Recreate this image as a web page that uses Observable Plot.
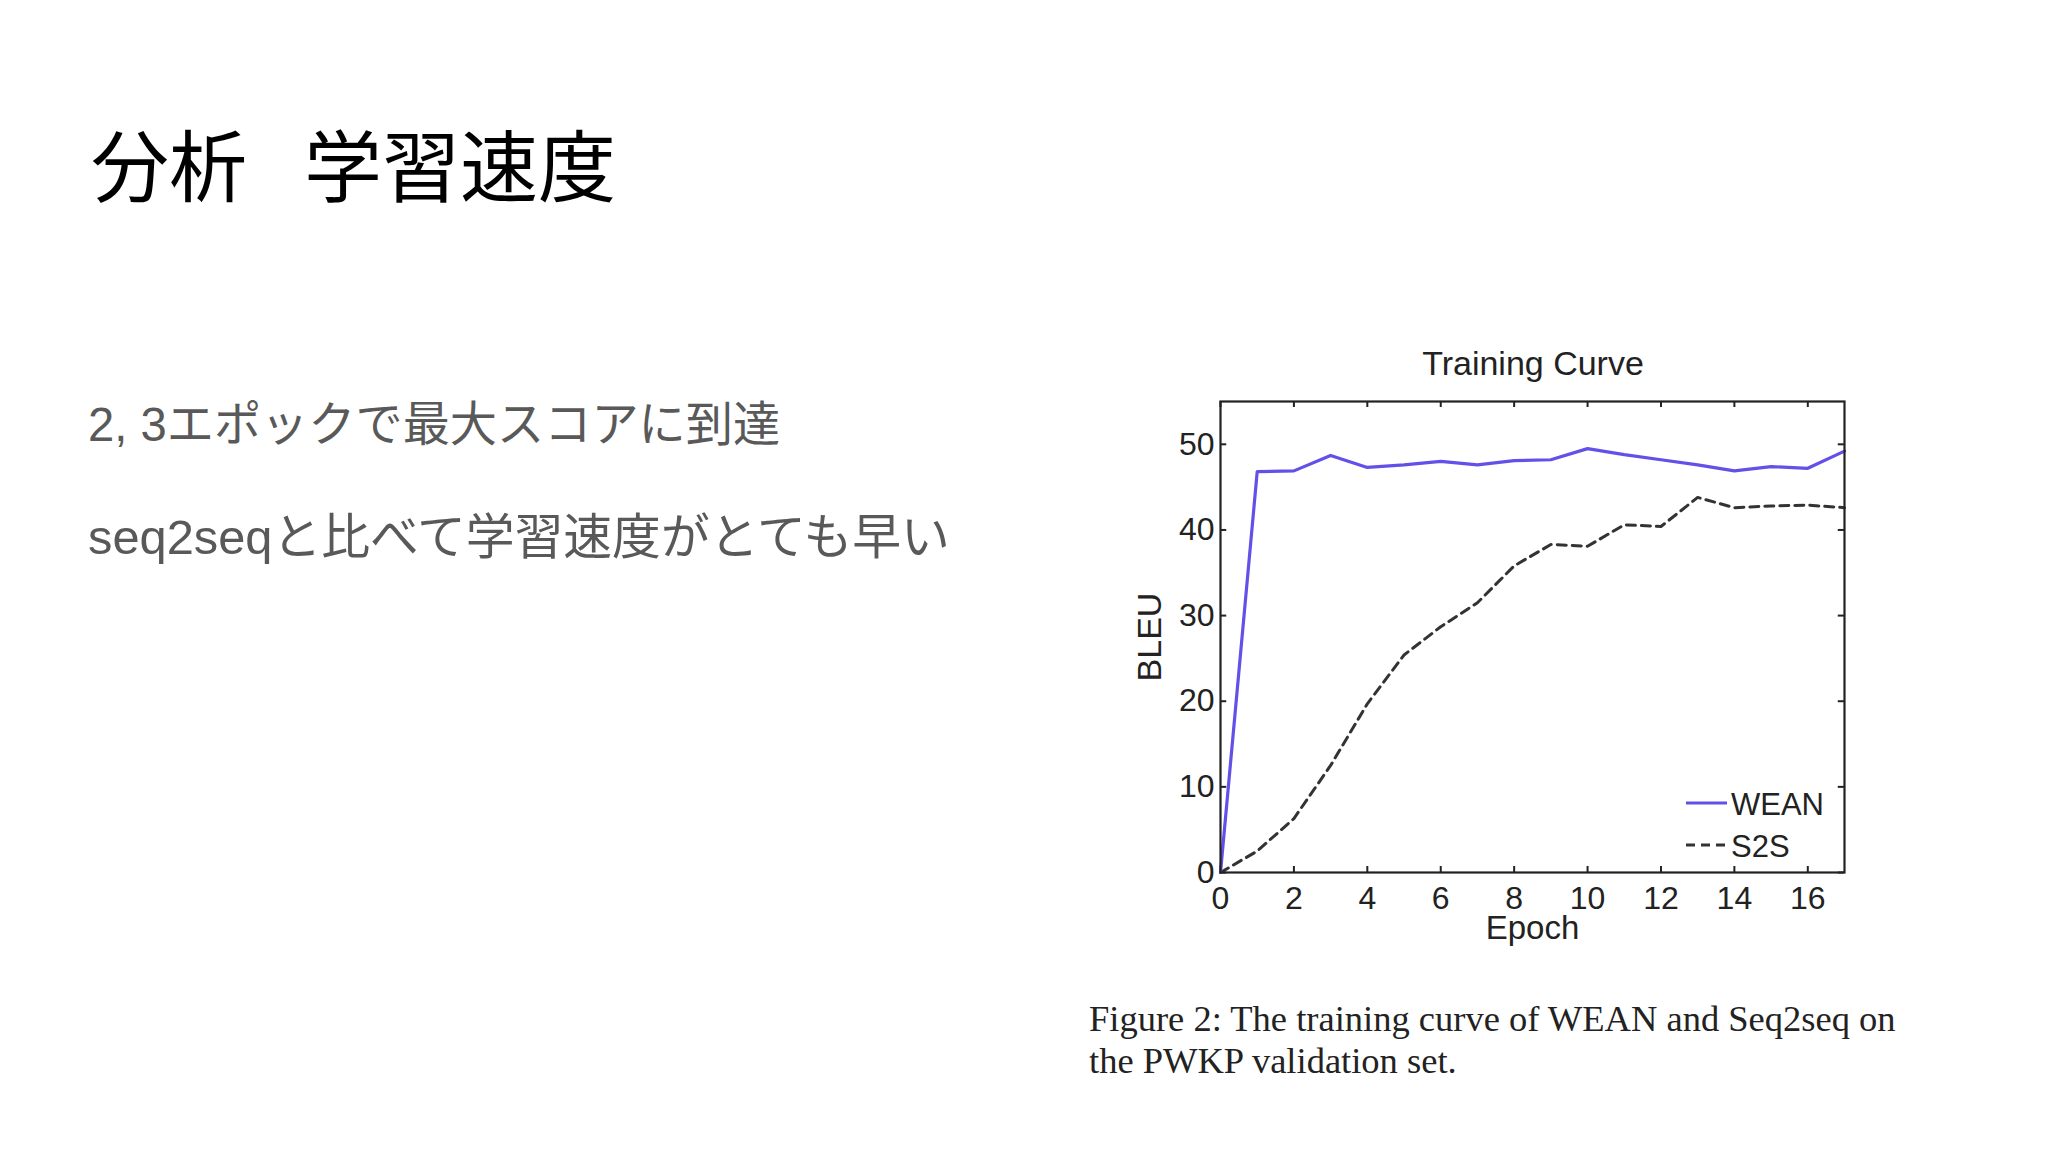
<!DOCTYPE html>
<html>
<head>
<meta charset="utf-8">
<script src="https://cdn.jsdelivr.net/npm/d3@7"></script>
<script src="https://cdn.jsdelivr.net/npm/@observablehq/plot@0.6"></script>
<style>
  html, body { margin: 0; padding: 0; background: #fff; }
  #page { position: relative; width: 2048px; height: 1152px; overflow: hidden; background: #fff; }
  #overlay { position: absolute; left: 0; top: 0; }
  #chart { position: absolute; left: 1100px; top: 320px; }
</style>
</head>
<body>
<div id="page">
  <svg id="overlay" width="2048" height="1152" xmlns="http://www.w3.org/2000/svg">
    <g font-family="'Noto Sans CJK JP', 'Liberation Sans', sans-serif" fill="#000">
      <text x="91" y="196" font-size="78">分析</text>
      <text x="304" y="196" font-size="78">学習速度</text>
    </g>
    <g font-family="'Liberation Sans', 'Noto Sans CJK JP', sans-serif" fill="#595959">
      <text x="88" y="441" font-size="47.2">2, 3エポックで最大スコアに到達</text>
      <text x="88" y="554" font-size="48.8">seq2seqと比べて学習速度がとても早い</text>
    </g>
    <text x="1533" y="375" text-anchor="middle" font-family="'Liberation Sans', sans-serif" font-size="34" fill="#222">Training Curve</text>
    <g id="legend" font-family="'Liberation Sans', sans-serif" font-size="31" fill="#222">
      <line x1="1686" x2="1727" y1="803" y2="803" stroke="#6250e8" stroke-width="3.2"></line>
      <text x="1731" y="815">WEAN</text>
      <line x1="1686" x2="1727" y1="845" y2="845" stroke="#333" stroke-width="3" stroke-dasharray="9,6"></line>
      <text x="1731" y="857">S2S</text>
    </g>
    <g font-family="'Liberation Serif', serif" font-size="36.5" fill="#222">
      <text x="1089" y="1031">Figure 2: The training curve of WEAN and Seq2seq on</text>
      <text x="1089" y="1073">the PWKP validation set.</text>
    </g>
  </svg>
  <div id="chart"></div>
</div>
<script>
const epochs = [0, 1, 2, 3, 4, 5, 6, 7, 8, 9, 10, 11, 12, 13, 14, 15, 16, 17];
const weanBleu = [0, 46.8, 46.9, 48.7, 47.3, 47.6, 48.0, 47.6, 48.1, 48.2, 49.5, 48.8, 48.2, 47.6, 46.9, 47.4, 47.2, 49.2];
const s2sBleu = [0, 2.5, 6.3, 12.5, 19.7, 25.4, 28.7, 31.5, 35.8, 38.3, 38.1, 40.6, 40.4, 43.8, 42.6, 42.8, 42.9, 42.6];
const xTicks = [0, 2, 4, 6, 8, 10, 12, 14, 16];
const yTicks = [0, 10, 20, 30, 40, 50];
const xDomain = [0, 17];
const yDomain = [0, 55];
const xLabel = ["Epoch"];
const yLabel = ["BLEU"];

const wean = epochs.map((e, i) => ({epoch: e, bleu: weanBleu[i]}));
const s2s = epochs.map((e, i) => ({epoch: e, bleu: s2sBleu[i]}));

// inward tick lengths expressed in data units (~6px)
const tx = 0.17, ty = 0.7;

const chart = Plot.plot({
  width: 800,
  height: 650,
  marginLeft: 120,
  marginRight: 56,
  marginTop: 81,
  marginBottom: 98,
  style: {fontFamily: "'Liberation Sans', sans-serif", fontSize: "32px", color: "#222", background: "transparent", overflow: "visible"},
  x: {domain: xDomain, ticks: xTicks, tickSize: 0, tickPadding: 14, label: null},
  y: {domain: yDomain, ticks: yTicks, tickSize: 0, tickPadding: 6, label: null},
  marks: [
    Plot.ruleX(xTicks, {x: d => d, y1: yDomain[0], y2: yDomain[0] + ty, stroke: "#222", strokeWidth: 2}),
    Plot.ruleX(xTicks, {x: d => d, y1: yDomain[1] - ty, y2: yDomain[1], stroke: "#222", strokeWidth: 2}),
    Plot.ruleY(yTicks, {y: d => d, x1: xDomain[0], x2: xDomain[0] + tx, stroke: "#222", strokeWidth: 2}),
    Plot.ruleY(yTicks, {y: d => d, x1: xDomain[1] - tx, x2: xDomain[1], stroke: "#222", strokeWidth: 2}),
    Plot.line(s2s, {x: "epoch", y: "bleu", stroke: "#333", strokeWidth: 3, strokeDasharray: "9,6"}),
    Plot.line(wean, {x: "epoch", y: "bleu", stroke: "#6250e8", strokeWidth: 3.2}),
    Plot.frame({stroke: "#222", strokeWidth: 2.2}),
    Plot.text(xLabel, {text: d => d, frameAnchor: "bottom", lineAnchor: "top", dy: 43, fontSize: 33, fill: "#222"}),
    Plot.text(yLabel, {text: d => d, frameAnchor: "left", textAnchor: "middle", lineAnchor: "top", rotate: -90, dx: -84, fontSize: 34, fill: "#222"})
  ]
});
document.getElementById("chart").appendChild(chart);
</script>
</body>
</html>
